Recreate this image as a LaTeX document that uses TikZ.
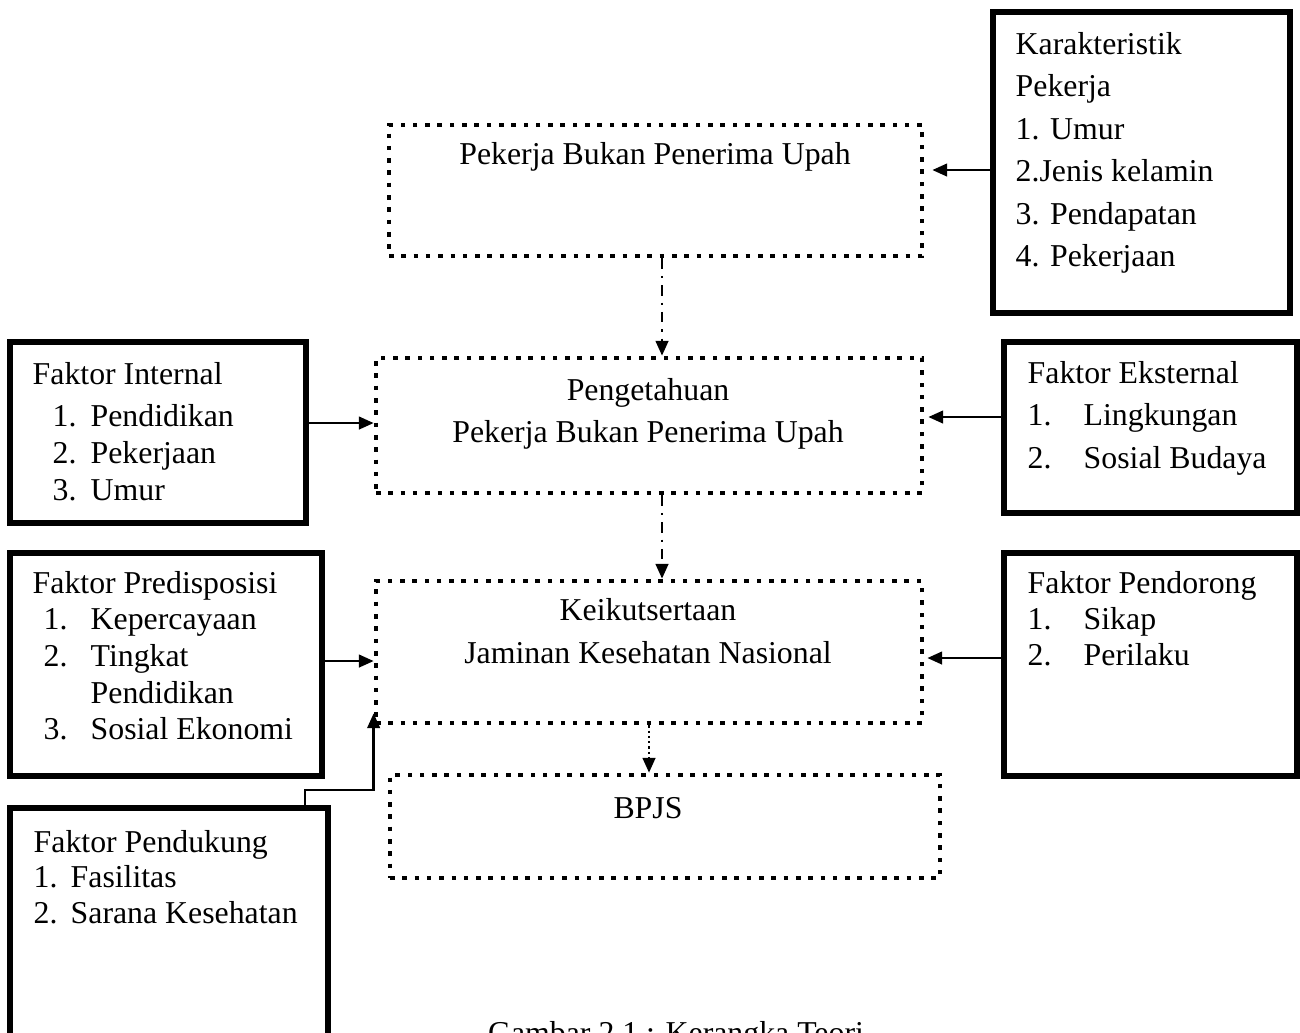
\documentclass[tikz,border=0pt]{standalone}
\usepackage{fontspec}
\setmainfont{Liberation Serif}
\usetikzlibrary{arrows.meta, calc}

\begin{document}
\begin{tikzpicture}[>={Triangle[length=4.2pt,width=3.6pt]},
	font=\fontsize{9.05}{12.1}\selectfont,
	solidbox/.style={draw, line width=1.6pt, inner sep=0pt},
	dotbox/.style={draw, line width=1.35pt, dash pattern=on 1.3pt off 2.2pt, inner sep=0pt},
	txt/.style={inner sep=0pt, anchor=base west},
	ctxt/.style={inner sep=0pt, anchor=base},
	arr/.style={->, line width=0.65pt},
	dashdot/.style={->, line width=0.65pt, dash pattern=on 3pt off 2pt on 0.6pt off 2pt},
	fine/.style={->, line width=0.65pt, dash pattern=on 0.6pt off 0.9pt}]
	\useasboundingbox (0,0) rectangle (13,-10.32);
	
	% Boxes
	\node[solidbox, minimum width=2.97cm, minimum height=3.01cm] (karak) at (11.415,-1.625) {};
	\node[dotbox, minimum width=5.33cm, minimum height=1.31cm] (pbpu) at (6.555,-1.905) {};
	\node[solidbox, minimum width=2.96cm, minimum height=1.81cm] (intern) at (1.58,-4.325) {};
	\node[dotbox, minimum width=5.46cm, minimum height=1.35cm] (peng) at (6.49,-4.255) {};
	\node[solidbox, minimum width=2.93cm, minimum height=1.71cm] (ekstern) at (11.505,-4.275) {};
	\node[solidbox, minimum width=3.12cm, minimum height=2.23cm] (predis) at (1.66,-6.645) {};
	\node[dotbox, minimum width=5.46cm, minimum height=1.42cm] (kei) at (6.49,-6.52) {};
	\node[solidbox, minimum width=2.93cm, minimum height=2.23cm] (dorong) at (11.505,-6.645) {};
	\node[dotbox, minimum width=5.5cm, minimum height=1.03cm] (bpjs) at (6.65,-8.265) {};
	\node[solidbox, minimum width=3.18cm, minimum height=2.32cm] (dukung) at (1.69,-9.24) {};
	
	% Texts
	\node[txt] (karakT) at (10.15,-0.54) {\begin{tabular}[t]{@{}l@{}}
		Karakteristik\\ Pekerja\\ 1. Umur\\ 2.Jenis kelamin\\ 3. Pendapatan\\ 4. Pekerjaan
		\end{tabular}};
	\node[ctxt] (pbpuT) at (6.55,-1.64) {Pekerja Bukan Penerima Upah};
	\node[txt, font=\fontsize{9.05}{10.5}\selectfont] (internT) at (0.32,-3.84) {\begin{tabular}[t]{@{}p{0.2cm}@{}p{0.38cm}@{}l@{}}
		\multicolumn{3}{@{}l@{}}{Faktor Internal}\\[1.5pt]
		& 1. & Pendidikan\\ & 2. & Pekerjaan\\ & 3. & Umur
		\end{tabular}};
	\node[ctxt] (pengT) at (6.48,-4.00) {\begin{tabular}[t]{@{}c@{}}
		Pengetahuan\\ Pekerja Bukan Penerima Upah
		\end{tabular}};
	\node[txt] (eksternT) at (10.27,-3.83) {\begin{tabular}[t]{@{}p{0.56cm}@{}l@{}}
		\multicolumn{2}{@{}l@{}}{Faktor Eksternal}\\
		1. & Lingkungan\\ 2. & Sosial Budaya
		\end{tabular}};
	\node[txt, font=\fontsize{9.05}{10.45}\selectfont] (predisT) at (0.32,-5.93) {\begin{tabular}[t]{@{}p{0.11cm}@{}p{0.47cm}@{}l@{}}
		\multicolumn{3}{@{}l@{}}{Faktor Predisposisi}\\
		& 1. & Kepercayaan\\ & 2. & Tingkat\\ & & Pendidikan\\ & 3. & Sosial Ekonomi
		\end{tabular}};
	\node[ctxt, font=\fontsize{9.05}{12.5}\selectfont] (keiT) at (6.48,-6.20) {\begin{tabular}[t]{@{}c@{}}
		Keikutsertaan\\ Jaminan Kesehatan Nasional
		\end{tabular}};
	\node[txt, font=\fontsize{9.05}{10.3}\selectfont] (dorongT) at (10.27,-5.93) {\begin{tabular}[t]{@{}p{0.56cm}@{}l@{}}
		\multicolumn{2}{@{}l@{}}{Faktor Pendorong}\\
		1. & Sikap\\ 2. & Perilaku
		\end{tabular}};
	\node[ctxt] (bpjsT) at (6.48,-8.18) {BPJS};
	\node[txt, font=\fontsize{9.05}{10.1}\selectfont] (dukungT) at (0.33,-8.52) {\begin{tabular}[t]{@{}p{0.37cm}@{}l@{}}
		\multicolumn{2}{@{}l@{}}{Faktor Pendukung}\\
		1. & Fasilitas\\ 2. & Sarana Kesehatan
		\end{tabular}};
	\node[ctxt] (caption) at (6.76,-10.43) {Gambar 2.1 : Kerangka Teori};
	
	% Arrows
	\draw[arr, shorten >=0.08cm] (karak.west |- 0,-1.70) -- (pbpu.east |- 0,-1.70);
	\draw[dashdot] (pbpu.south -| 6.62,0) -- (peng.north -| 6.62,0);
	\draw[arr] (intern.east |- 0,-4.23) -- (peng.west |- 0,-4.23);
	\draw[arr, shorten >=0.04cm] (ekstern.west |- 0,-4.17) -- (peng.east |- 0,-4.17);
	\draw[dashdot] (peng.south -| 6.62,0) -- (kei.north -| 6.62,0);
	\draw[arr] (predis.east |- 0,-6.61) -- (kei.west |- 0,-6.61);
	\draw[arr, shorten >=0.03cm] (dorong.west |- 0,-6.58) -- (kei.east |- 0,-6.58);
	\draw[fine] (kei.south -| 6.49,0) -- (bpjs.north -| 6.49,0);
	\draw[arr] (dukung.north -| 3.05,0) -- ++(0,0.15) -| ([yshift=0.12cm]kei.south west);
\end{tikzpicture}
\end{document}
